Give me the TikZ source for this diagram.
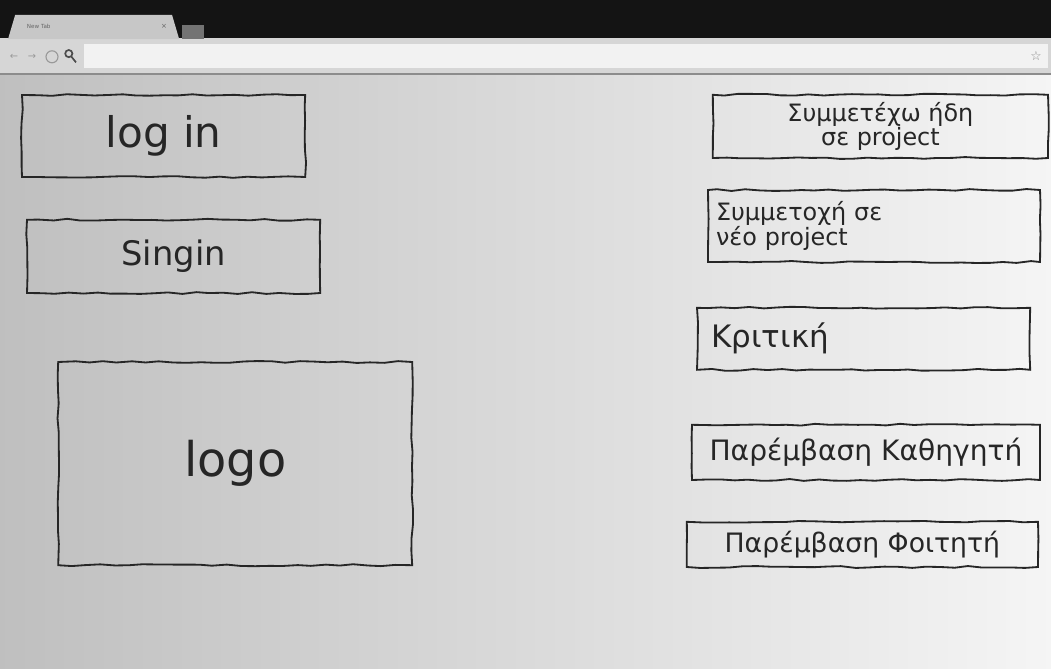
\documentclass[tikz,border=0pt]{standalone}
\usepackage{fontspec}
\setmainfont{DejaVu Sans}
\usetikzlibrary{decorations.pathmorphing}
\tikzset{
  sketch/.style={draw=black!85, line width=1.3pt, decorate,
    decoration={random steps, segment length=10pt, amplitude=0.7pt},
    inner sep=0pt},
  hand/.style={font=\fontsize{#1}{#1}\selectfont, text=black!85},
}
\begin{document}
\begin{tikzpicture}
\pgfmathsetseed{11}
\useasboundingbox (0,0) rectangle (26.275,16.7);
% page and browser
\shade[left color=black!25, middle color=black!6, right color=black!4] (0,0) rectangle (26.275,15.7);
\fill[black!92] (0,15.7) rectangle (26.275,16.7);
\fill[black!16] (0,14.85) rectangle (26.275,15.75);
\fill[black!5] (2.1,15.0) rectangle (26.2,15.6);
\draw[black!45, line width=1pt] (0,14.85) -- (26.275,14.85);
\fill[black!22] (0.2,15.72) -- (0.38,16.33) -- (4.3,16.33) -- (4.48,15.72) -- cycle;
\draw (0.55,16.05) node[anchor=west, font=\fontsize{4}{4}\selectfont, text=black!60] (tab) {New Tab};
\draw (4.1,16.05) node[font=\fontsize{5}{5}\selectfont, text=black!60] (tabx) {×};
\fill[black!55] (4.55,15.72) rectangle (5.1,16.08);
\draw (0.35,15.28) node[font=\fontsize{7}{7}\selectfont, text=black!40] (back) {←};
\draw (0.8,15.28) node[font=\fontsize{7}{7}\selectfont, text=black!40] (fwd) {→};
\draw[black!40, line width=0.8pt] (1.3,15.28) circle (0.15);
\draw[black!70, line width=1.2pt] (1.72,15.36) circle (0.09) (1.78,15.29) -- (1.9,15.14);
\draw (25.9,15.3) node[font=\fontsize{9}{9}\selectfont, text=black!45] (star) {☆};
% left column
\draw (4.09,13.3) node[sketch, minimum width=7.08cm, minimum height=2.05cm, hand=30] (login) {log in};
\draw (4.34,10.29) node[sketch, minimum width=7.33cm, minimum height=1.83cm, hand=24] (signin) {Singin};
\draw (5.88,5.11) node[sketch, minimum width=8.85cm, minimum height=5.08cm, hand=34] (logo) {logo};
% right column
\draw (22.01,13.54) node[sketch, minimum width=8.38cm, minimum height=1.58cm, hand=17, align=center] (joined) {Συμμετέχω ήδη\\σε project};
\draw (21.85,11.05) node[sketch, minimum width=8.3cm, minimum height=1.8cm, hand=17, align=left, text width=7.9cm] (newproj) {Συμμετοχή σε\\νέο project};
\draw (21.59,8.23) node[sketch, minimum width=8.33cm, minimum height=1.55cm, hand=22, align=left, text width=7.6cm] (review) {Κριτική};
\draw (21.65,5.39) node[sketch, minimum width=8.7cm, minimum height=1.38cm, hand=20] (teacher) {Παρέμβαση Καθηγητή};
\draw (21.56,3.09) node[sketch, minimum width=8.78cm, minimum height=1.13cm, hand=19] (student) {Παρέμβαση Φοιτητή};
\end{tikzpicture}
\end{document}
